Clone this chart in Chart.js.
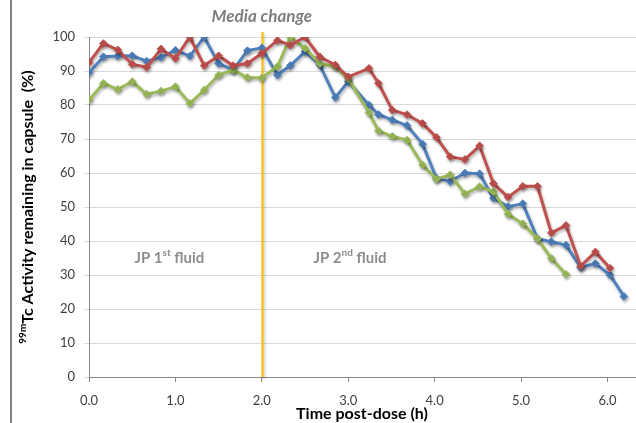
<!DOCTYPE html>
<html>
<head>
<meta charset="utf-8">
<script src="https://cdn.jsdelivr.net/npm/chart.js@4.4.1/dist/chart.umd.min.js"></script>
<style>
html,body{margin:0;padding:0;background:#fff;}
#wrap{width:636px;height:423px;position:relative;}
</style>
</head>
<body>
<div id="wrap"><canvas id="c" width="636" height="423"></canvas></div>
<script>
// Time post-dose (h)
const times = [0, 0.167, 0.333, 0.5, 0.667, 0.833, 1.0, 1.167, 1.333, 1.5, 1.667, 1.833, 2.0,
  2.18, 2.33, 2.5, 2.67, 2.85, 3.0, 3.24, 3.35, 3.51, 3.68, 3.86, 4.02, 4.18, 4.35, 4.52, 4.68,
  4.85, 5.02, 5.19, 5.35, 5.52, 5.69, 5.86, 6.03, 6.19];
const blueSeries = [89.5, 94.2, 94.4, 94.5, 92.9, 94.0, 96.1, 94.4, 100, 92.2, 90.3, 96.0, 96.8,
  88.8, 91.6, 95.7, 91.8, 82.2, 86.9, 80.0, 77.2, 75.6, 74.0, 68.5, 58.5, 57.5, 60.0, 59.8, 52.6,
  50.1, 51.0, 40.7, 39.8, 38.8, 32.2, 33.4, 30.0, 23.7];
const redSeries = [92.5, 98.1, 96.2, 92.0, 91.1, 96.5, 93.7, 100, 91.6, 94.5, 91.6, 92.2, 95.2,
  99.0, 97.6, 100, 94.2, 91.8, 88.3, 90.8, 86.4, 78.5, 77.2, 74.6, 70.5, 64.8, 64.0, 68.0, 56.9,
  52.9, 56.1, 56.1, 42.4, 44.6, 32.6, 36.8, 32.0, null];
const greenSeries = [81.5, 86.4, 84.6, 86.9, 83.2, 84.1, 85.4, 80.5, 84.4, 88.8, 90.3, 88.1, 88.0,
  91.3, 100, 96.7, 92.2, 91.3, 87.7, 77.8, 72.4, 70.8, 69.7, 62.4, 58.2, 59.5, 53.9, 56.0, 54.5,
  47.9, 45.1, 40.7, 34.9, 30.2, null, null, null, null];
const xTickValues = [0, 1, 2, 3, 4, 5, 6];
const mediaChangeTime = 2.0;
const annotations = [
  {text: 'JP 1', sup: 'st', rest: ' fluid', x: 0.93, y: 35},
  {text: 'JP 2', sup: 'nd', rest: ' fluid', x: 3.02, y: 35}
];
const FONT = 'Lato, "Open Sans", sans-serif';

function toPoints(arr){ return arr.map((v,i)=>({x:times[i], y:v})); }

const shadowPlugin = {
  id:'shadow',
  beforeDatasetsDraw(chart){
    const ctx = chart.ctx; ctx.save();
    ctx.shadowColor = 'rgba(0,0,0,0.3)';
    ctx.shadowBlur = 3; ctx.shadowOffsetX = 1; ctx.shadowOffsetY = 2;
  },
  afterDatasetsDraw(chart){ chart.ctx.restore(); }
};

const decoPlugin = {
  id:'deco',
  beforeDatasetsDraw(chart){
    const ctx = chart.ctx, xs = chart.scales.x, ca = chart.chartArea;
    const px = Math.round(xs.getPixelForValue(mediaChangeTime)) + 0.5;
    ctx.save();
    ctx.strokeStyle = '#FFC000'; ctx.lineWidth = 2;
    ctx.beginPath(); ctx.moveTo(px, 32); ctx.lineTo(px, ca.bottom); ctx.stroke();
    ctx.restore();
  },
  afterDraw(chart){
    const ctx = chart.ctx, xs = chart.scales.x, ys = chart.scales.y;
    ctx.save();
    // frame line on the left
    ctx.strokeStyle = '#7f7f7f'; ctx.lineWidth = 2;
    ctx.beginPath(); ctx.moveTo(11, 0); ctx.lineTo(11, 423); ctx.stroke();
    // media change label
    ctx.fillStyle = '#7f7f7f';
    ctx.font = 'italic bold 17px ' + FONT;
    ctx.textAlign = 'center'; ctx.textBaseline = 'middle';
    ctx.fillText('Media change', xs.getPixelForValue(mediaChangeTime), 17);
    // fluid labels
    annotations.forEach(a=>{
      const big = 'bold 15px ' + FONT, small = 'bold 10px ' + FONT;
      ctx.font = big; const w1 = ctx.measureText(a.text).width, w3 = ctx.measureText(a.rest).width;
      ctx.font = small; const w2 = ctx.measureText(a.sup).width;
      const total = w1+w2+w3;
      let x = xs.getPixelForValue(a.x) - total/2; const y = ys.getPixelForValue(a.y);
      ctx.fillStyle = '#8c8c8c'; ctx.textAlign='left'; ctx.textBaseline='middle';
      ctx.font = big; ctx.fillText(a.text, x, y); x += w1;
      ctx.font = small; ctx.fillText(a.sup, x, y-5); x += w2;
      ctx.font = big; ctx.fillText(a.rest, x, y);
    });
    // y axis title with superscript
    ctx.save();
    ctx.translate(28, 207); ctx.rotate(-Math.PI/2);
    ctx.fillStyle = '#000';
    const p1 = '99m', p2 = 'Tc Activity remaining in capsule  (%)';
    ctx.font = 'bold 10px ' + FONT; const sw = ctx.measureText(p1).width;
    ctx.font = 'bold 16px ' + FONT; const mw = ctx.measureText(p2).width;
    let sx = -(sw+mw)/2;
    ctx.textAlign='left'; ctx.textBaseline='middle';
    ctx.font = 'bold 10px ' + FONT; ctx.fillText(p1, sx, -5);
    ctx.font = 'bold 16px ' + FONT; ctx.fillText(p2, sx+sw, 0);
    ctx.restore();
    // x axis title
    ctx.fillStyle = '#000'; ctx.font = 'bold 16px ' + FONT;
    ctx.textAlign='center'; ctx.textBaseline='middle';
    ctx.fillText('Time post-dose (h)', 362, 414);
    ctx.restore();
  }
};

function ds(label, arr, color){
  return {label, data: toPoints(arr), borderColor: color, backgroundColor: color,
    borderWidth: 3, pointStyle: 'rectRot', pointRadius: 3.8, pointBorderWidth: 1,
    tension: 0, spanGaps: false};
}

new Chart(document.getElementById('c'), {
  type: 'line',
  data: { datasets: [
    ds('Red', redSeries, '#C0504D'),
    ds('Green', greenSeries, '#9BBB59'),
    ds('Blue', blueSeries, '#4F81BD')
  ]},
  options: {
    responsive: false, animation: false,
    layout: { autoPadding: false, padding: { top: 37, right: 0, left: 0, bottom: 0 } },
    plugins: { legend: {display:false}, tooltip: {enabled:false}, title:{display:false} },
    scales: {
      x: { type: 'linear', min: 0, max: 6.33,
        afterBuildTicks(s){ s.ticks = xTickValues.map(v=>({value:v})); },
        afterFit(s){ s.height = 46; s.paddingLeft = 0; s.paddingRight = 0; },
        grid: { drawOnChartArea: false, drawTicks: true, tickLength: 5, color: '#868686' },
        border: { color: '#868686', width: 1 },
        ticks: { color: '#404040', font: { family: FONT, size: 13 }, padding: 11,
          maxRotation: 0, callback: v => Number(v).toFixed(1) }
      },
      y: { min: 0, max: 100,
        afterFit(s){ s.width = 89; },
        grid: { color: '#d9d9d9', tickLength: 5 },
        border: { color: '#868686', width: 1 },
        ticks: { stepSize: 10, color: '#404040', font: { family: FONT, size: 13 }, padding: 9 }
      }
    }
  },
  plugins: [shadowPlugin, decoPlugin]
});
</script>
</body>
</html>
